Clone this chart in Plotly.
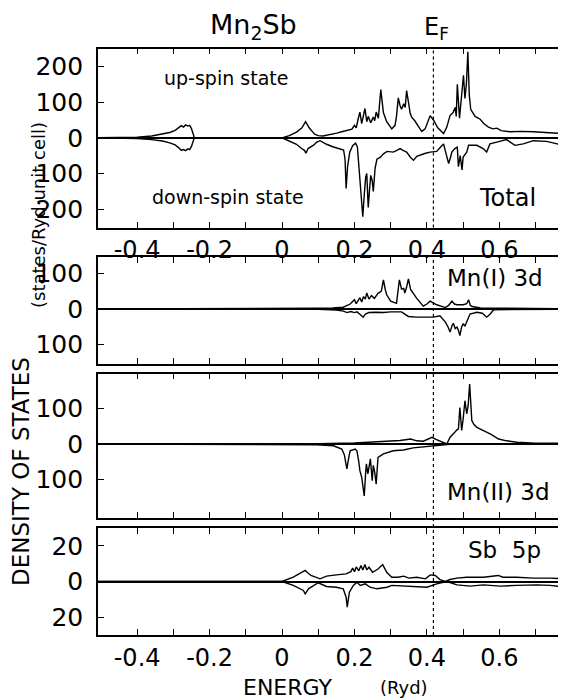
import plotly.graph_objects as go

# ---------------- data (energy in Ryd, DOS in states/Ryd-unit cell) ----------------
# Total DOS
total_up_E = [-0.51, -0.45, -0.40, -0.36, -0.33, -0.31, -0.295, -0.285, -0.278, -0.272, -0.266, -0.26,
              -0.255, -0.25, -0.246, -0.242, 0.0, 0.02, 0.04, 0.055, 0.065, 0.075, 0.09, 0.10, 0.113,
              0.13, 0.151, 0.165, 0.179, 0.193, 0.200, 0.205, 0.210, 0.215, 0.220, 0.225, 0.229, 0.234,
              0.238, 0.245, 0.252, 0.256, 0.260, 0.266, 0.2727, 0.28, 0.289, 0.303, 0.312, 0.316, 0.321,
              0.326, 0.33, 0.336, 0.340, 0.344, 0.349, 0.354, 0.358, 0.367, 0.381, 0.386, 0.395, 0.402,
              0.409, 0.418, 0.43, 0.446, 0.455, 0.464, 0.472, 0.478, 0.481, 0.484, 0.487, 0.49, 0.495,
              0.501, 0.505, 0.509, 0.513, 0.517, 0.521, 0.527, 0.533, 0.547, 0.557, 0.57, 0.582, 0.593,
              0.605, 0.63, 0.66, 0.694, 0.735, 0.76, 0.785]
total_up = [0, 0, 2, 5, 10, 15, 21, 28, 34, 30, 36, 33,
            35, 26, 10, 0, 0, 6, 16, 28, 45, 28, 10, 6, 5,
            8, 13, 17, 20, 24, 35, 28, 52, 72, 40, 60, 82, 45,
            60, 42, 58, 48, 72, 55, 135, 70, 45, 25, 35, 60, 112,
            90, 80, 95, 85, 132, 95, 68, 58, 47, 25, 18, 25, 45,
            62, 50, 28, 12, 30, 63, 70, 85, 60, 150, 95, 55, 110,
            175, 110, 150, 241, 120, 80, 70, 60, 52, 40, 30, 25, 27,
            20, 17, 18, 17, 15, 13, 20]

total_down_E = [-0.51, -0.45, -0.40, -0.36, -0.33, -0.31, -0.295, -0.285, -0.278, -0.272, -0.266, -0.26,
                -0.255, -0.25, -0.246, -0.242, 0.0, 0.02, 0.04, 0.054, 0.062, 0.066, 0.072, 0.088, 0.096,
                0.105, 0.123, 0.14, 0.16, 0.17, 0.174, 0.177, 0.181, 0.187, 0.195, 0.203, 0.208, 0.215,
                0.219, 0.223, 0.227, 0.231, 0.234, 0.238, 0.242, 0.245, 0.249, 0.252, 0.257, 0.262, 0.271,
                0.28, 0.29, 0.307, 0.317, 0.326, 0.334, 0.344, 0.355, 0.363, 0.372, 0.381, 0.394, 0.409,
                0.427, 0.441, 0.446, 0.453, 0.46, 0.465, 0.469, 0.477, 0.484, 0.487, 0.492, 0.497, 0.5,
                0.51, 0.515, 0.538, 0.555, 0.565, 0.574, 0.593, 0.62, 0.643, 0.666, 0.694, 0.73, 0.76, 0.785]
total_down = [0, 0, 2, 5, 9, 14, 20, 28, 35, 33, 36, 31,
              33, 24, 10, 0, 0, 8, 18, 30, 35, 43, 30, 20, 12,
              8, 18, 25, 30, 34, 60, 142, 80, 40, 22, 15, 25, 120,
              170, 221, 160, 110, 100, 195, 140, 105, 120, 150, 85, 60, 55,
              45, 38, 40, 35, 30, 35, 40, 55, 63, 52, 48, 44, 40,
              38, 22, 17, 45, 72, 55, 40, 30, 26, 81, 50, 90, 54,
              40, 21, 21, 30, 40, 17, 12, 5, 21, 17, 8, 10, 17, 26]

# Mn(I) 3d
mn1_up_E = [-0.51, 0.0, 0.05, 0.096, 0.14, 0.169, 0.188, 0.195, 0.2, 0.205, 0.21, 0.215, 0.22, 0.225,
            0.23, 0.234, 0.24, 0.247, 0.255, 0.265, 0.274, 0.28, 0.285, 0.289, 0.30, 0.316, 0.324, 0.33,
            0.336, 0.339, 0.344, 0.349, 0.355, 0.365, 0.372, 0.39, 0.4, 0.409, 0.418, 0.427, 0.451, 0.46,
            0.469, 0.476, 0.483, 0.5, 0.51, 0.515, 0.52, 0.525, 0.548, 0.613, 0.7, 0.785]
mn1_up = [0, 0, 1, 2, 3, 5, 14, 20, 26, 15, 25, 32, 20, 35,
          28, 45, 28, 38, 30, 44, 50, 82, 55, 40, 22, 16, 82, 56,
          58, 45, 62, 85, 55, 40, 30, 8, 14, 22, 18, 12, 4, 10,
          22, 14, 12, 12, 15, 26, 10, 7, 3, 2, 1, 1]
mn1_down_E = [-0.51, 0.0, 0.1, 0.15, 0.17, 0.179, 0.19, 0.2, 0.207, 0.215, 0.224, 0.23, 0.24, 0.26,
              0.28, 0.3, 0.33, 0.34, 0.349, 0.372, 0.4, 0.418, 0.436, 0.445, 0.451, 0.458, 0.464, 0.469,
              0.473, 0.478, 0.483, 0.487, 0.491, 0.496, 0.5, 0.505, 0.51, 0.519, 0.538, 0.553, 0.565,
              0.575, 0.584, 0.65, 0.785]
mn1_down = [0, 0, 1, 3, 6, 10, 7, 10, 8, 15, 23, 14, 10, 9,
            10, 8, 8, 15, 21, 23, 23, 23, 19, 28, 37, 50, 65, 48,
            40, 55, 51, 60, 75, 50, 42, 48, 35, 14, 9, 12, 23,
            14, 2, 2, 1]

# Mn(II) 3d
mn2_up_E = [-0.51, 0.0, 0.1, 0.2, 0.28, 0.3, 0.326, 0.355, 0.372, 0.39, 0.405, 0.414, 0.425, 0.441,
            0.455, 0.464, 0.472, 0.477, 0.483, 0.487, 0.491, 0.496, 0.5, 0.505, 0.51, 0.514, 0.518,
            0.524, 0.53, 0.538, 0.556, 0.576, 0.598, 0.62, 0.648, 0.7, 0.785]
mn2_up = [0, 0, 1, 3, 7, 8, 10, 14, 9, 8, 15, 19, 13, 5,
          0, 19, 26, 33, 40, 42, 103, 38, 70, 122, 85, 110, 169,
          66, 55, 47, 38, 28, 14, 9, 5, 2, 2]
mn2_down_E = [-0.51, 0.0, 0.096, 0.142, 0.165, 0.172, 0.179, 0.184, 0.188, 0.202, 0.207, 0.212, 0.215,
              0.22, 0.224, 0.227, 0.231, 0.233, 0.237, 0.24, 0.244, 0.249, 0.252, 0.256, 0.26, 0.265,
              0.28, 0.307, 0.335, 0.362, 0.39, 0.418, 0.446, 0.47, 0.785]
mn2_down = [0, 0, 2, 5, 14, 30, 70, 40, 19, 14, 20, 50, 75,
            94, 120, 146, 80, 56, 84, 60, 42, 103, 60, 80, 113, 38,
            28, 19, 17, 11, 8, 5, 2, 0, 0]

# Sb 5p
sb_up_E = [-0.51, 0.0, 0.031, 0.05, 0.064, 0.07, 0.08, 0.105, 0.123, 0.15, 0.177, 0.19, 0.195, 0.2,
           0.205, 0.212, 0.218, 0.223, 0.229, 0.234, 0.24, 0.25, 0.265, 0.278, 0.289, 0.303, 0.32,
           0.336, 0.35, 0.372, 0.396, 0.409, 0.423, 0.436, 0.451, 0.464, 0.483, 0.51, 0.556, 0.597,
           0.61, 0.648, 0.694, 0.74, 0.785]
sb_up = [0, 0, 2.5, 4.5, 6.2, 5, 3.4, 1.5, 3, 3.7, 4.3, 5.5, 7.5, 5.5,
         8.2, 6, 9, 6.5, 9.5, 6.5, 8, 5.2, 7, 9.5, 5.2, 2.4, 2.4,
         3, 1.9, 2.4, 1.5, 3.7, 3.4, 1.1, 0, 1.1, 1.9, 2.4, 2.4, 3.4,
         2.4, 2.4, 1.9, 1.9, 1.5]
sb_down_E = [-0.51, 0.0, 0.031, 0.059, 0.064, 0.073, 0.1, 0.123, 0.15, 0.169, 0.177, 0.18, 0.186, 0.197,
             0.207, 0.216, 0.23, 0.243, 0.262, 0.29, 0.303, 0.336, 0.372, 0.4, 0.427, 0.455, 0.483,
             0.52, 0.556, 0.602, 0.648, 0.703, 0.74, 0.785]
sb_down = [0, 0, 2.2, 5, 6.9, 4.1, 0.7, 2.8, 3.2, 4.1, 8.8, 14.4, 6, 2.2,
           0.4, 2.2, 1.3, 3.2, 4.1, 3.2, 2.2, 2.5, 2.8, 3.2, 1.3, 0, 1.9,
           2.6, 1.9, 2.6, 2.2, 1.9, 2.2, 3.2]

E_FERMI = 0.418
X_TICK_VALS = [-0.4, -0.3, -0.2, -0.1, 0.0, 0.1, 0.2, 0.3, 0.4, 0.5, 0.6, 0.7]
X_TICK_TEXT = ["-0.4", "", "-0.2", "", "0", "", "0.2", "", "0.4", "", "0.6", ""]

# ---------------- page geometry (browser body has an 8px margin) ----------------
OFF = 8
W, H = 566 - OFF, 700 - OFF
L = 98 - OFF


def dom(top_px, bottom_px):
    return [1 - (bottom_px - OFF) / H, 1 - (top_px - OFF) / H]


def px(X):
    return (X - OFF - L) / (W - L)


def py(Y):
    return 1 - (Y - OFF) / H


panels = [
    dict(up=(total_up_E, total_up), down=(total_down_E, total_down), rng=[-251, 250],
         dom=dom(48.5, 227.5), ticks=[-200, -100, 0, 100, 200], labels=True),
    dict(up=(mn1_up_E, mn1_up), down=(mn1_down_E, mn1_down), rng=[-153.5, 146.5],
         dom=dom(257, 363.5), ticks=[-100, 0, 100], labels=False),
    dict(up=(mn2_up_E, mn2_up), down=(mn2_down_E, mn2_down), rng=[-207, 198.6],
         dom=dom(373.5, 517.5), ticks=[-100, 0, 100], labels=False),
    dict(up=(sb_up_E, sb_up), down=(sb_down_E, sb_down), rng=[-30, 30],
         dom=dom(528, 635), ticks=[-20, 0, 20], labels=True),
]

FONT = "DejaVu Sans"
fig = go.Figure()
layout = {}
for i, p in enumerate(panels, start=1):
    xa = "x" if i == 1 else f"x{i}"
    ya = "y" if i == 1 else f"y{i}"
    for (ex, vals), sign in ((p["up"], 1), (p["down"], -1)):
        fig.add_trace(go.Scatter(x=ex, y=[sign * v for v in vals], mode="lines",
                                 line=dict(color="black", width=1.4), xaxis=xa, yaxis=ya,
                                 showlegend=False, hoverinfo="skip"))
    xkey = "xaxis" if i == 1 else f"xaxis{i}"
    ykey = "yaxis" if i == 1 else f"yaxis{i}"
    layout[xkey] = dict(domain=[0, 1], anchor=ya, range=[-0.508, 0.784],
                        tickvals=X_TICK_VALS, ticktext=X_TICK_TEXT, showticklabels=p["labels"],
                        ticks="inside", ticklen=6, tickwidth=1.3, tickcolor="black",
                        showline=True, linecolor="black", linewidth=1.6, mirror="allticks",
                        showgrid=False, zeroline=False,
                        tickfont=dict(family=FONT, size=24, color="black"))
    if i > 1:
        layout[xkey]["matches"] = "x"
    layout[ykey] = dict(domain=p["dom"], anchor=xa, range=p["rng"],
                        tickvals=p["ticks"], ticktext=[str(abs(t)) for t in p["ticks"]],
                        ticks="inside", ticklen=6, tickwidth=1.3, tickcolor="black",
                        showline=True, linecolor="black", linewidth=1.6, mirror=False,
                        showgrid=False, zeroline=True, zerolinecolor="black", zerolinewidth=1.6,
                        ticklabelstandoff=8,
                        tickfont=dict(family=FONT, size=25, color="black"))

shapes = [
    dict(type="line", xref="x", yref="paper", x0=E_FERMI, x1=E_FERMI,
         y0=panels[0]["dom"][0], y1=panels[0]["dom"][1],
         line=dict(color="black", width=1.2, dash="dot")),
    dict(type="line", xref="x", yref="paper", x0=E_FERMI, x1=E_FERMI,
         y0=panels[3]["dom"][0], y1=panels[1]["dom"][1],
         line=dict(color="black", width=1.2, dash="dot")),
]


def ann(text, x, y, size, xref="paper", yref="paper", **kw):
    d = dict(text=text, x=x, y=y, xref=xref, yref=yref, showarrow=False,
             xanchor="center", yanchor="middle",
             font=dict(family=FONT, size=size, color="black"))
    d.update(kw)
    return d


annotations = [
    ann("Mn<sub>2</sub>Sb", px(253), py(27), 27),
    ann("E<sub>F</sub>", px(436), py(28), 24),
    ann("up-spin state", -0.155, 167, 19, xref="x", yref="y"),
    ann("down-spin state", -0.149, -166, 19, xref="x", yref="y"),
    ann("Total", 0.622, -169, 24, xref="x", yref="y"),
    ann("Mn(I) 3d", 0.588, 87, 23, xref="x2", yref="y2"),
    ann("Mn(II) 3d", 0.597, -135, 23, xref="x3", yref="y3"),
    ann("Sb  5p", 0.613, 17.6, 23, xref="x4", yref="y4"),
    ann("ENERGY", px(287), py(687), 22),
    ann("(Ryd)", px(404), py(687), 18),
    ann("DENSITY OF STATES", px(21), py(472), 23, textangle=-90),
    ann("(states/Ryd·unit cell)", px(38), py(215), 18, textangle=-90),
]

fig.update_layout(**layout)
fig.update_layout(width=W, height=H, margin=dict(l=L, r=0, t=0, b=0),
                  paper_bgcolor="white", plot_bgcolor="white",
                  shapes=shapes, annotations=annotations, showlegend=False)
fig.write_html("out.html")
